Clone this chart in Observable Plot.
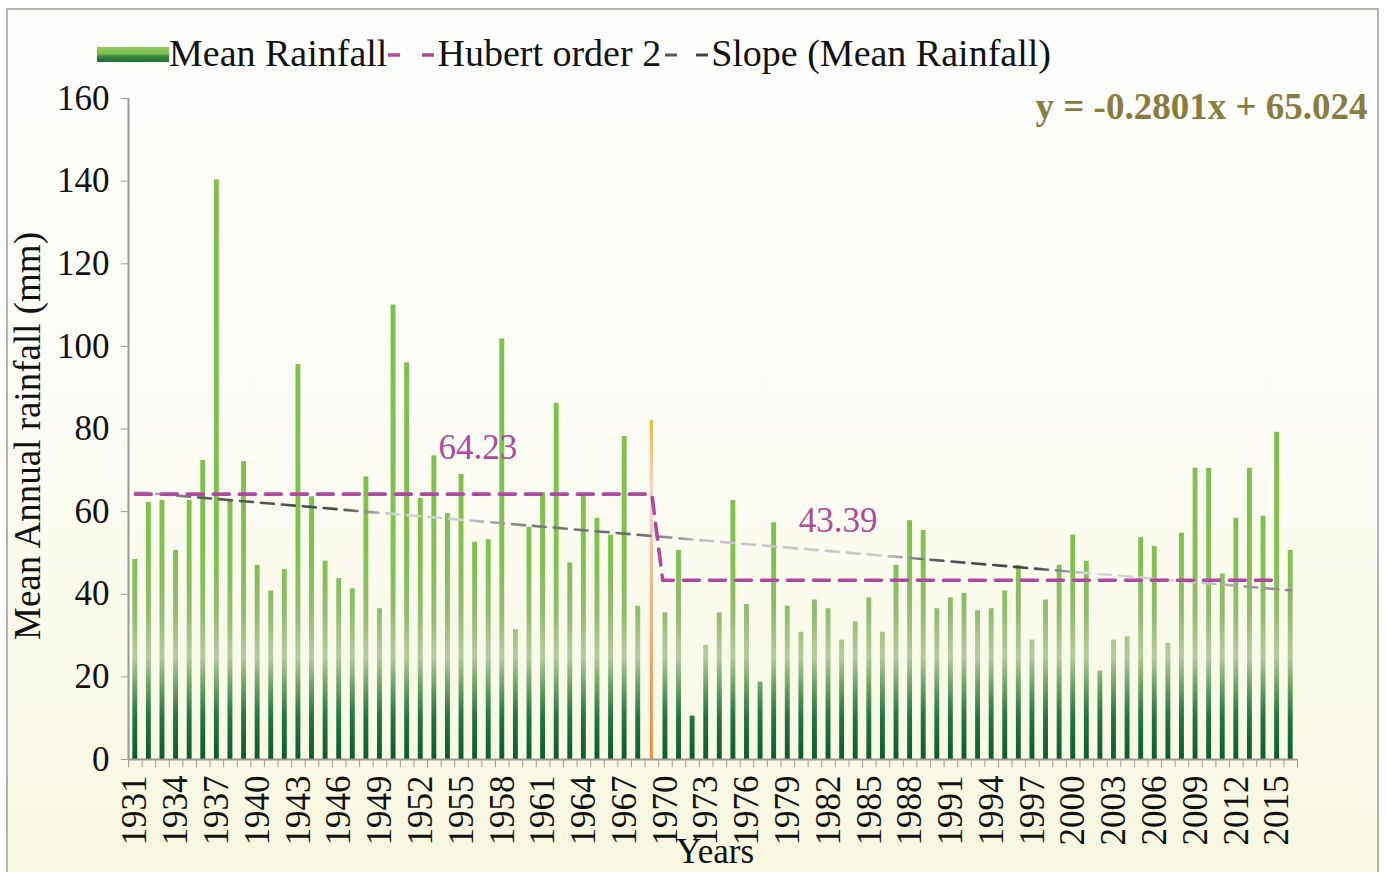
<!DOCTYPE html>
<html><head><meta charset="utf-8">
<script src="https://cdn.jsdelivr.net/npm/d3@7"></script>
<script src="https://cdn.jsdelivr.net/npm/@observablehq/plot@0.6"></script>
<style>
body{margin:0;background:#fff;}
#wrap{position:relative;width:1387px;height:872px;overflow:hidden;font-family:"Liberation Serif","Times New Roman",serif;}
#bg{position:absolute;left:6px;top:8px;width:1373px;height:900px;border:2px solid #b4b4b4;box-sizing:border-box;
 background:linear-gradient(#fefefd 0%,#fdfdf7 45%,#f9f9e6 80%,#f7f7de 100%);}
#legend{position:absolute;left:97px;top:30px;height:46px;display:flex;align-items:center;font-size:38px;color:#111;white-space:nowrap;}
#legend .sw{width:72px;height:15px;background:linear-gradient(#93cb5e 0%,#7fbf4f 45%,#3e8a40 60%,#1f6e35 100%);margin-top:2px;}
#legend svg{display:block;margin-top:4px;}
#chart{position:absolute;left:0;top:78px;}
</style></head>
<body><div id="wrap"><div id="bg"></div>
<div id="legend">
 <div class="sw"></div><span>Mean Rainfall</span>
 <svg width="50" height="10"><line x1="1" x2="13" y1="5" y2="5" stroke="#ad4aa0" stroke-width="3.5"/><line x1="35" x2="47" y1="5" y2="5" stroke="#ad4aa0" stroke-width="3.5"/></svg>
 <span>Hubert order 2</span>
 <svg width="50" height="10"><line x1="4" x2="16" y1="5" y2="5" stroke="#555" stroke-width="3"/><line x1="35" x2="47" y1="5" y2="5" stroke="#444" stroke-width="3"/></svg>
 <span>Slope (Mean Rainfall)</span>
</div>
<div id="chart"></div></div>
<script>
const years = d3.range(1931, 2017);
const rainfall = [48.4,62.2,62.7,50.6,62.7,72.4,140.3,62.5,72.1,47.0,
 40.8,46.0,95.6,63.6,48.0,43.8,41.3,68.4,36.5,110.0,
 96.0,63.2,73.5,59.5,69.0,52.6,53.2,101.8,31.4,56.2,
 64.6,86.2,47.6,64.0,58.4,54.3,78.2,37.1,82.0,35.5,
 50.6,10.5,27.6,35.5,62.7,37.5,18.7,57.3,37.1,30.8,
 38.6,36.5,28.9,33.3,39.1,30.8,47.0,57.8,55.4,36.5,
 39.1,40.2,36.0,36.5,40.8,47.0,28.9,38.6,47.0,54.3,
 48.0,21.4,28.9,29.7,53.7,51.6,28.1,54.8,70.5,70.5,
 44.9,58.4,70.5,58.9,79.2,50.6];
const breakYear = 1969;
const hubertYears = [1931, 1969, 1969.8, 2015];
const hubertValues = [64.23, 64.23, 43.39, 43.39];
const hubertLabelText = ["64.23", "43.39"];
const hubertLabelYears = [1956.2, 1982.7];
const hubertLabelValues = [75.5, 57.9];
const slope = -0.2801, intercept = 65.024;
const equation = "y = -0.2801x + 65.024";
const yTicks = [0,20,40,60,80,100,120,140,160];
const xLabelYears = d3.range(1931, 2016, 3);
const xBoundaries = d3.range(1930.5, 2017, 1);

const data = years.map((year, i) => ({year, value: rainfall[i]}));
const trend = [0, years.length - 1].map(i => ({year: years[i], value: slope * (i + 1) + intercept}));
const hubert = hubertYears.map((year, i) => ({year, value: hubertValues[i]}));
const hubLabels = hubertLabelText.map((text, i) => ({text, year: hubertLabelYears[i], value: hubertLabelValues[i]}));

const FONT = "Liberation Serif, Times New Roman, serif";
const half = 0.18;
const chart = Plot.plot({
  width: 1387, height: 794,
  marginLeft: 128, marginRight: 90, marginTop: 20, marginBottom: 113,
  style: {background: "transparent", fontFamily: FONT, fontSize: "35px", color: "#111"},
  x: {type: "linear", domain: [1930.5, 2016.5], axis: null},
  y: {domain: [0, 160], axis: null},
  marks: [
    Plot.rectY(data.filter(d => d.year !== breakYear), {x1: d => d.year - half, x2: d => d.year + half, y: "value", fill: "url(#gGreen)"}),
    Plot.rectY(data.filter(d => d.year === breakYear), {x1: d => d.year - half * 0.6, x2: d => d.year + half * 0.6, y: "value", fill: "url(#gOrange)"}),
    Plot.line(trend, {x: "year", y: "value", stroke: "url(#gTrend)", strokeWidth: 2.6, strokeDasharray: "13,8"}),
    Plot.line(hubert, {x: "year", y: "value", stroke: "#ad4aa0", strokeWidth: 3.6, strokeDasharray: "16,10", strokeLinejoin: "round"}),
    Plot.text(hubLabels, {x: "year", y: "value", text: "text", fill: "#ad4aa0", fontSize: 35, fontFamily: FONT}),
    Plot.ruleY([0], {stroke: "#9a9a9a", strokeWidth: 2}),
    Plot.ruleX([1930.5], {stroke: "#9a9a9a", strokeWidth: 2}),
    Plot.axisY({ticks: yTicks, tickSize: 7, tickPadding: 12, stroke: "#9a9a9a", fill: "#111", fontSize: 35, label: null}),
    Plot.axisX({ticks: xBoundaries, tickSize: 8, tickFormat: () => "", stroke: "#9a9a9a", label: null}),
    Plot.axisX({ticks: xLabelYears, tickSize: 0, tickPadding: 16, tickRotate: -90, tickFormat: d => String(d), fill: "#111", fontSize: 35, label: null}),
    Plot.text([equation], {frameAnchor: "top-right", dx: 70, dy: -6, fill: "#8a7c3e", fontWeight: "bold", fontSize: 37, fontFamily: FONT}),
    Plot.text(["Mean Annual rainfall (mm)"], {frameAnchor: "left", textAnchor: "middle", rotate: -90, dx: -100, dy: 7, fill: "#111", fontSize: 37, fontFamily: FONT}),
    Plot.text(["Years"], {frameAnchor: "bottom", lineAnchor: "bottom", dx: 2, dy: 103, fill: "#111", fontSize: 35, fontFamily: FONT})
  ]
});
document.getElementById("chart").appendChild(chart);

const xs = chart.scale("x"), ys = chart.scale("y");
const svg = d3.select(chart);
const defs = svg.insert("defs", ":first-child");
const gG = defs.append("linearGradient").attr("id", "gGreen").attr("gradientUnits", "userSpaceOnUse")
  .attr("x1", 0).attr("x2", 0).attr("y1", ys.apply(160)).attr("y2", ys.apply(0));
[[0, "#7cc144"], [0.70, "#80c14f"], [0.78, "#92bc70"], [0.845, "#b3cd9c"], [0.89, "#6aa263"], [0.935, "#24773d"], [1, "#0a5c2b"]]
  .forEach(([o, c]) => gG.append("stop").attr("offset", o).attr("stop-color", c));
const gO = defs.append("linearGradient").attr("id", "gOrange").attr("x1", 0).attr("x2", 0).attr("y1", 0).attr("y2", 1);
[[0, "#f6b020"], [0.12, "#f8c98a"], [0.25, "#f9d2dc"], [0.42, "#f6b78a"], [1, "#f08a34"]]
  .forEach(([o, c]) => gO.append("stop").attr("offset", o).attr("stop-color", c));
const gT = defs.append("linearGradient").attr("id", "gTrend").attr("gradientUnits", "userSpaceOnUse")
  .attr("y1", 0).attr("y2", 0).attr("x1", xs.apply(1930.5)).attr("x2", xs.apply(2016.5));
[[1931, "#c8c8c8"], [1936, "#5a5a5a"], [1946, "#4a4a4a"], [1950, "#d4d4d4"], [1955, "#cfcfcf"], [1960, "#7a7a7a"], [1968, "#6a6a6a"],
 [1973, "#c4c4c4"], [1986, "#cacaca"], [1990, "#555555"], [1997, "#3e3e3e"], [2001, "#d6d6d6"], [2009, "#d0d0d0"], [2013, "#9a9a9a"], [2016, "#8a8a8a"]]
  .forEach(([yr, c]) => gT.append("stop").attr("offset", (yr - 1930.5) / 86).attr("stop-color", c));
</script></body></html>
